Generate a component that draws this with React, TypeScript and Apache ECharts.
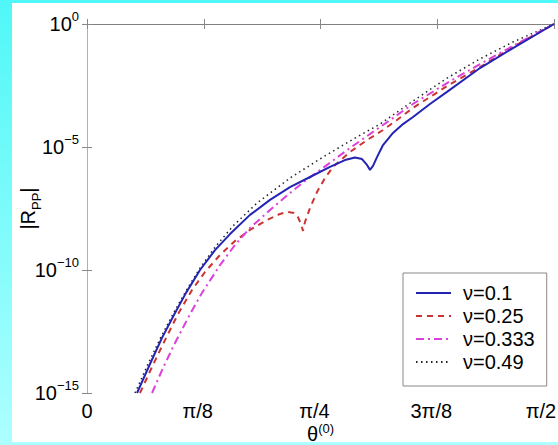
import React, { useEffect, useRef } from "react";
import * as echarts from "echarts";

// Tick labels
const xTickLabels = ["0", "π/8", "π/4", "3π/8", "π/2"];
const seriesNames = ["ν=0.1", "ν=0.25", "ν=0.333", "ν=0.49"];

// θ in degrees (0..90 = 0..π/2), |R_PP| as log10 exponent
const thetaNu010 = [9.64, 12.14, 14.45, 16.96, 19.08, 21.78, 24.67, 27.56, 31.41, 35.27, 39.12, 42.98, 46.83, 49.72, 51.65, 53.0, 53.96, 54.54, 55.12, 55.89, 57.05, 58.97, 60.9, 62.83, 66.1, 69.38, 75.74, 82.1, 90];
const logRNu010 = [-15, -13.82, -12.76, -11.75, -10.93, -10.0, -9.19, -8.54, -7.76, -7.15, -6.63, -6.22, -5.81, -5.53, -5.43, -5.49, -5.73, -5.93, -5.77, -5.41, -4.92, -4.43, -4.07, -3.78, -3.25, -2.76, -1.79, -0.98, 0];

const thetaNu025 = [10.21, 12.53, 15.03, 17.54, 20.24, 22.74, 25.63, 28.52, 31.41, 34.69, 37.19, 38.74, 39.89, 40.66, 41.24, 41.63, 42.01, 42.98, 44.33, 45.87, 47.41, 50.69, 53.96, 57.05, 59.74, 62.83, 66.1, 69.38, 75.74, 82.1, 90];
const logRNu025 = [-15, -13.94, -12.85, -11.79, -10.81, -10.08, -9.39, -8.82, -8.37, -7.97, -7.72, -7.64, -7.68, -7.85, -8.13, -8.41, -8.05, -7.48, -6.83, -6.26, -5.81, -5.2, -4.72, -4.31, -3.9, -3.41, -2.97, -2.52, -1.75, -0.93, 0];

const thetaNu0333 = [12.53, 14.65, 16.96, 19.46, 22.16, 25.63, 28.52, 31.41, 35.27, 39.12, 42.01, 45.48, 50.69, 56.47, 62.83, 69.38, 75.74, 82.1, 90];
const logRNu0333 = [-15, -13.98, -12.97, -11.95, -10.93, -9.8, -8.98, -8.29, -7.56, -6.87, -6.38, -5.85, -5.04, -4.19, -3.25, -2.4, -1.63, -0.89, 0];

const thetaNu049 = [9.25, 11.76, 14.07, 16.57, 19.08, 21.78, 24.67, 28.14, 32.76, 39.12, 45.48, 52.03, 56.47, 62.83, 69.38, 75.74, 82.1, 90];
const logRNu049 = [-15, -13.82, -12.8, -11.79, -10.85, -9.92, -9.07, -8.21, -7.28, -6.26, -5.41, -4.59, -4.07, -3.13, -2.2, -1.42, -0.73, 0];

const FONT = "'Liberation Sans', Arial, sans-serif";

const pairs = (xs: number[], ys: number[]) => xs.map((x, i) => [x, ys[i]]);

export default function App() {
  const ref = useRef<HTMLDivElement>(null);
  useEffect(() => {
    const chart = echarts.init(ref.current!, null, { renderer: "svg" });
    const tickStyle = { inside: true, length: 5, lineStyle: { color: "#888", width: 1 } };
    chart.setOption({
      animation: false,
      backgroundColor: "transparent",
      textStyle: { fontFamily: FONT },
      grid: { left: 87, top: 24, right: 4, bottom: 52, containLabel: false, outerBoundsMode: "none" },
      xAxis: [
        {
          type: "value",
          min: 0,
          max: 90,
          interval: 22.5,
          axisLine: { show: true, lineStyle: { color: "#a8a8a8", width: 1 } },
          axisTick: tickStyle,
          splitLine: { show: false },
          axisLabel: {
            color: "#000",
            fontSize: 20,
            lineHeight: 20,
            fontFamily: FONT,
            margin: 8,
            formatter: (v: number) => {
              const i = Math.round(v / 22.5);
              const t = xTickLabels[i] ?? "";
              if (i === 4) return `{q|${t}}`;
              return i > 0 ? `{p|${t}}` : t;
            },
            rich: {
              p: { fontSize: 20, lineHeight: 20, color: "#000", fontFamily: FONT, padding: [0, 12, 0, 0] },
              q: { fontSize: 20, lineHeight: 20, color: "#000", fontFamily: FONT, padding: [0, 26, 0, 0] },
            },
          },
          name: "{b|θ}{s|(0)}",
          nameLocation: "middle",
          nameGap: 29,
          nameMoveOverlap: false,
          nameTextStyle: {
            rich: {
              b: { fontSize: 20, lineHeight: 24, color: "#000", fontFamily: FONT },
              s: { fontSize: 13, lineHeight: 6, verticalAlign: "top", color: "#000", fontFamily: FONT },
            },
          },
        },
        {
          type: "value",
          position: "top",
          min: 0,
          max: 90,
          interval: 22.5,
          axisLine: { show: true, lineStyle: { color: "#808080", width: 1 } },
          axisTick: tickStyle,
          axisLabel: { show: false },
          splitLine: { show: false },
        },
      ],
      yAxis: [
        {
          type: "value",
          min: -15,
          max: 0,
          interval: 5,
          axisLine: { show: true, lineStyle: { color: "#c4c4c4", width: 1 } },
          axisTick: tickStyle,
          splitLine: { show: false },
          axisLabel: {
            margin: 8,
            formatter: (v: number) => `{b|10}{s|${v === 0 ? "0" : "−" + Math.abs(v)}}`,
            rich: {
              b: { fontSize: 20, lineHeight: 28, color: "#000", fontFamily: FONT },
              s: { fontSize: 13, lineHeight: 10, verticalAlign: "top", color: "#000", fontFamily: FONT },
            },
          },
          name: "|R{s|PP}|",
          nameLocation: "middle",
          nameRotate: 90,
          nameGap: 44,
          nameMoveOverlap: false,
          nameTextStyle: {
            fontSize: 20,
            lineHeight: 30,
            color: "#000",
            fontFamily: FONT,
            rich: {
              s: { fontSize: 13, lineHeight: 8, verticalAlign: "bottom", color: "#000", fontFamily: FONT },
            },
          },
        },
        {
          type: "value",
          position: "right",
          min: -15,
          max: 0,
          interval: 5,
          axisLine: { show: true, lineStyle: { color: "#b0b0b0", width: 1 } },
          axisTick: tickStyle,
          axisLabel: { show: false },
          splitLine: { show: false },
        },
      ],
      legend: {
        orient: "vertical",
        left: 403,
        top: 273,
        padding: [10, 12, 14, 12],
        itemWidth: 35,
        itemHeight: 14,
        itemGap: 3,
        backgroundColor: "#fff",
        borderColor: "#888",
        borderWidth: 1,
        borderRadius: 0,
        itemStyle: { opacity: 0 },
        textStyle: { fontSize: 20, color: "#000", fontFamily: FONT, padding: [0, 0, 0, 7] },
        data: seriesNames,
      },
      series: [
        {
          name: seriesNames[0],
          type: "line",
          data: pairs(thetaNu010, logRNu010),
          symbol: "none",
          z: 4,
          lineStyle: { color: "#2424b4", width: 2, type: "solid" },
          itemStyle: { color: "#2424b4" },
        },
        {
          name: seriesNames[1],
          type: "line",
          data: pairs(thetaNu025, logRNu025),
          symbol: "none",
          z: 3,
          lineStyle: { color: "#cc3333", width: 2, type: [6, 5] },
          itemStyle: { color: "#cc3333" },
        },
        {
          name: seriesNames[2],
          type: "line",
          data: pairs(thetaNu0333, logRNu0333),
          symbol: "none",
          z: 3,
          lineStyle: { color: "#dd3fdd", width: 2, type: [8, 4, 2, 4] },
          itemStyle: { color: "#dd3fdd" },
        },
        {
          name: seriesNames[3],
          type: "line",
          data: pairs(thetaNu049, logRNu049),
          symbol: "none",
          z: 2,
          lineStyle: { color: "#222", width: 1.5, type: [1.5, 3.5] },
          itemStyle: { color: "#222" },
        },
      ],
    });
    return () => chart.dispose();
  }, []);
  return (
    <div
      style={{
        position: "fixed",
        left: 0,
        top: 0,
        width: 558,
        height: 445,
        background: "linear-gradient(to bottom, #50f7f7, #adffff)",
      }}
    >
      <div style={{ position: "absolute", left: 12, top: 3, width: 546, height: 439, background: "#fff" }} />
      <div ref={ref} style={{ position: "absolute", left: 0, top: 0, width: 558, height: 445 }} />
    </div>
  );
}
